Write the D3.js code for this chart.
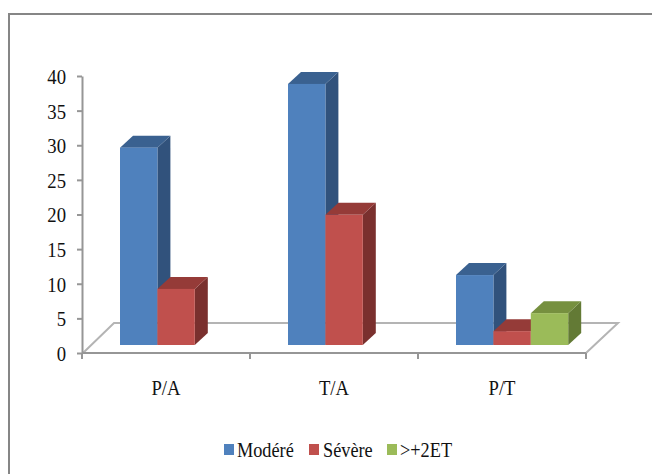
<!DOCTYPE html>
<html><head><meta charset="utf-8">
<script src="https://cdn.jsdelivr.net/npm/d3@7"></script>
<style>html,body{margin:0;padding:0;background:#fff}svg{display:block}text{font-family:"Liberation Serif",serif;fill:#111}</style>
</head><body><svg id="c" width="652" height="474"></svg>
<script>
const categories = ["P/A","T/A","P/T"];
const seriesNames = ["Modéré","Sévère",">+2ET"];
const moderes = [28.5,37.7,10.1];
const severes = [8.1,18.8,2];
const plus2et = [null,null,4.6];
const yTicks = [0,5,10,15,20,25,30,35,40];
const front = ["#4f81bd","#c0504d","#9bbb59"];
const topC = ["#3a6190","#953b38","#76903f"];
const sideC = ["#31527c","#7a302e","#637a35"];

const seriesValues = [moderes,severes,plus2et];
const svg = d3.select("#c");
const x0 = d3.scaleBand().domain(categories).range([82,586]);
const y = d3.scaleLinear().domain([0,40]).range([353,76]);
const barBaseOffset = 8, depthX = 13, depthY = 12, floorD = 31, floorH = 30, groupOffset = 38;
const barW = 37.4;
const squeeze = "scale(0.85,1)";
const x1 = d3.scaleBand().domain(seriesNames).range([0,barW*3]);

svg.append("rect").attr("x",9).attr("y",14).attr("width",660).attr("height",480)
  .attr("fill","#fff").attr("stroke","#868686").attr("stroke-width",2);

const poly = d3.line();
svg.append("path").attr("d",poly([[83,y(0)],[83+floorD,y(0)-floorH],[586+floorD+1,y(0)-floorH],[586,y(0)]]))
  .attr("fill","#fff").attr("stroke","#b4b4b4").attr("stroke-width",2);

const axisY = d3.axisLeft(y).tickValues(yTicks).tickSize(5).tickSizeOuter(0);
const gy = svg.append("g").attr("transform","translate(82,0)").call(axisY);
gy.selectAll("path,line").attr("stroke","#969696").attr("stroke-width",2);
gy.selectAll("text").attr("x",0).attr("font-size",22).attr("dy","0.34em").attr("text-anchor","end")
  .attr("transform","translate(-16,0) "+squeeze);

const ticksX = [...categories.map(c=>x0(c)), x0.range()[1]];
svg.append("line").attr("x1",82).attr("x2",586).attr("y1",y(0)).attr("y2",y(0)).attr("stroke","#969696").attr("stroke-width",2);
svg.selectAll(".tx").data(ticksX).join("line").attr("class","tx").attr("x1",d=>d).attr("x2",d=>d).attr("y1",y(0)).attr("y2",y(0)+6).attr("stroke","#969696").attr("stroke-width",2);
svg.selectAll(".cat").data(categories).join("text").attr("class","cat")
  .attr("transform",c=>`translate(${x0(c)+x0.bandwidth()/2},395) ${squeeze}`)
  .attr("text-anchor","middle").attr("font-size",22).text(c=>c);

categories.forEach((c,i)=>{
  seriesNames.forEach((s,j)=>{
    const v = seriesValues[j][i];
    if(v==null) return;
    const l = x0(c)+groupOffset+x1(s), r = l+barW, t = y(v)-barBaseOffset, b = y(0)-barBaseOffset;
    const g = svg.append("g");
    g.append("path").attr("d",poly([[r,t],[r+depthX,t-depthY],[r+depthX,b-depthY],[r,b]])).attr("fill",sideC[j]);
    g.append("path").attr("d",poly([[l,t],[l+depthX,t-depthY],[r+depthX,t-depthY],[r,t]])).attr("fill",topC[j]);
    g.append("rect").attr("x",l).attr("y",t).attr("width",barW).attr("height",b-t).attr("fill",front[j]);
  });
});

const legX = [224,309,387];
const legTextX = [237,323,400];
const leg = svg.selectAll(".leg").data(seriesNames).join("g").attr("class","leg");
leg.append("rect").attr("x",(d,i)=>legX[i]).attr("y",444).attr("width",10).attr("height",11).attr("fill",(d,i)=>front[i]);
leg.append("text").attr("transform",(d,i)=>`translate(${legTextX[i]},456.5) ${squeeze}`).attr("font-size",21.5).text(d=>d);
</script></body></html>
